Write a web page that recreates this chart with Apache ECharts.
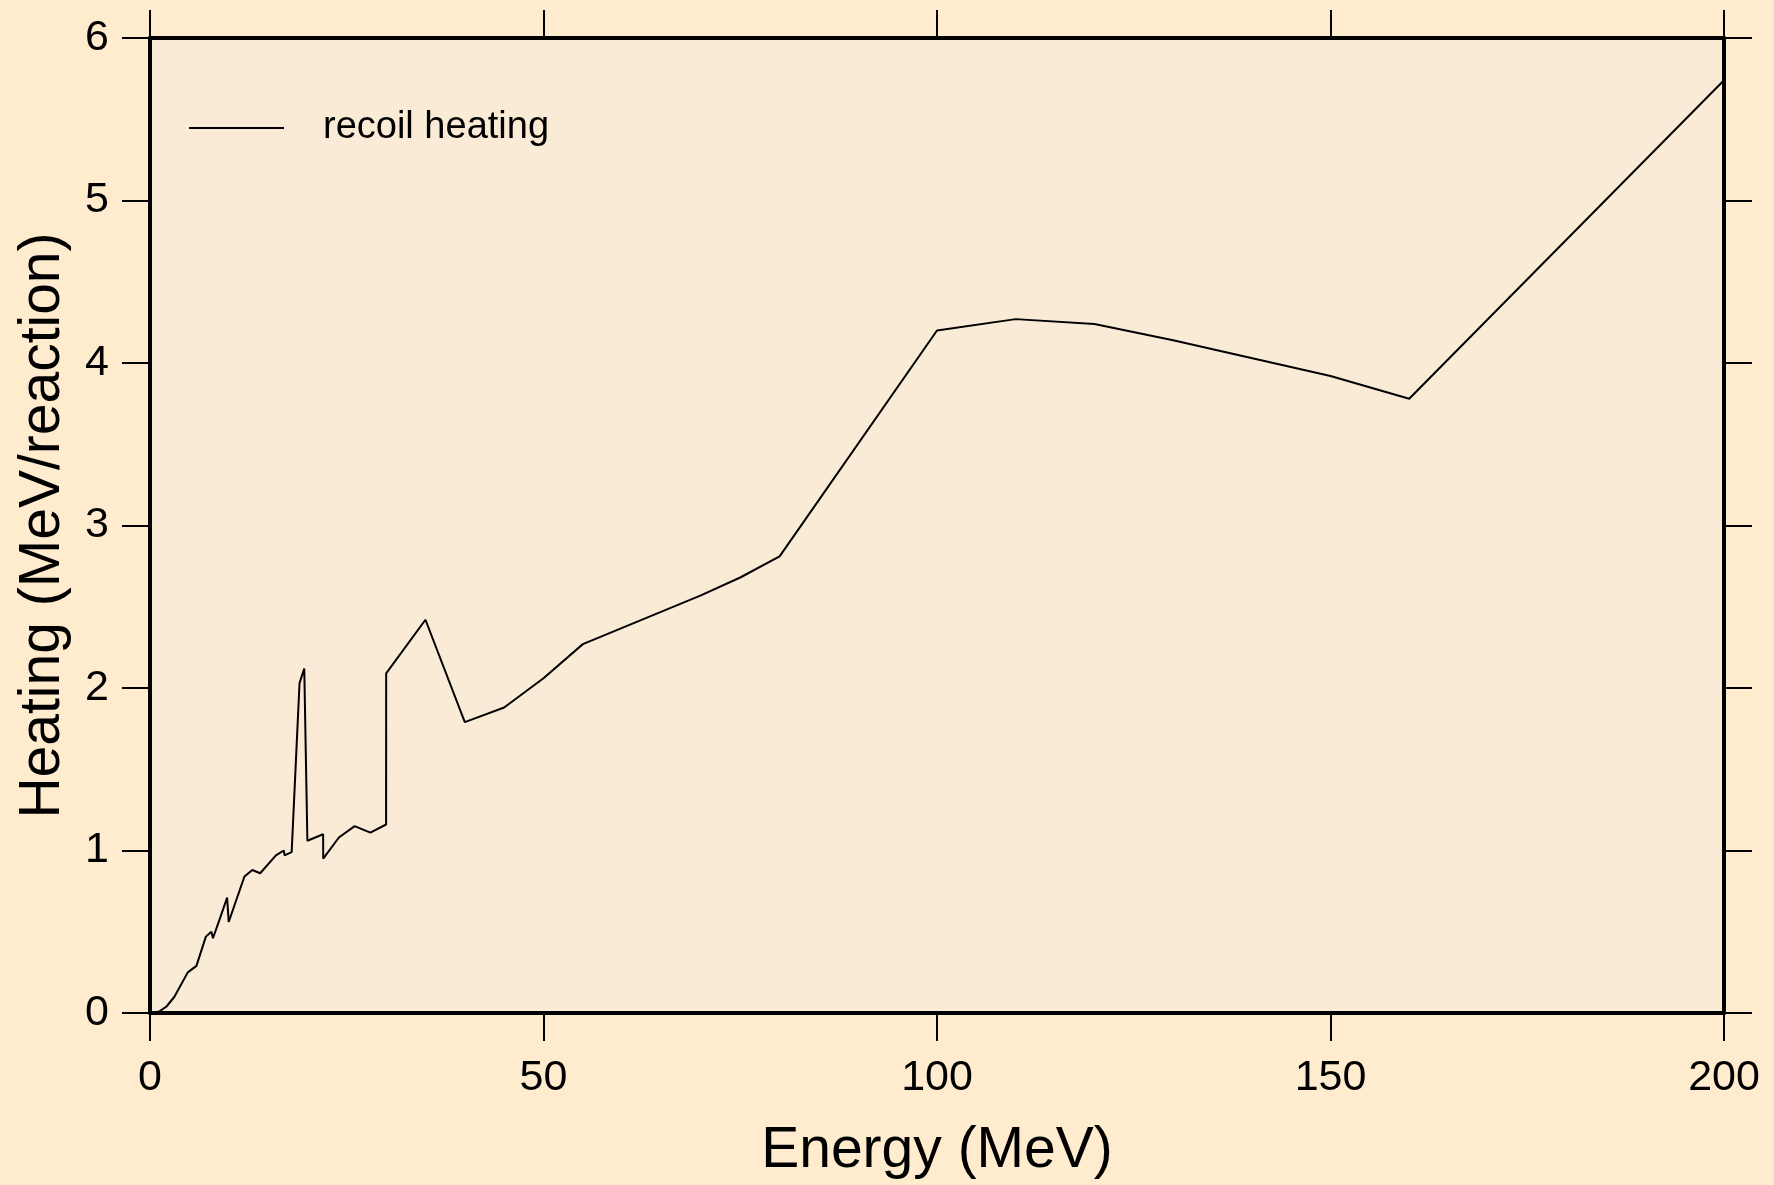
<!DOCTYPE html>
<html>
<head>
<meta charset="utf-8">
<script src="https://cdn.jsdelivr.net/npm/echarts@6/dist/echarts.min.js"></script>
<style>
html,body{margin:0;padding:0;background:#FFEBCD;}
#chart{width:1774px;height:1185px;}
</style>
</head>
<body>
<div id="chart"></div>
<script>
const energy = [0, 1.2, 2.1, 3.1, 4.8, 5.9, 7.1, 7.8, 8.0, 8.8, 9.8, 10.0, 12, 13, 14, 16, 17, 17.1, 18, 19, 19.6, 20, 22, 22.01, 24, 26, 28, 30, 30.01, 35, 40, 45, 50, 55, 60, 70, 75, 80, 100, 110, 120, 130, 150, 160, 200];
const heating = [0, 0.01, 0.04, 0.10, 0.25, 0.29, 0.47, 0.50, 0.46, 0.57, 0.71, 0.56, 0.84, 0.88, 0.86, 0.97, 1.00, 0.97, 0.99, 2.03, 2.12, 1.06, 1.10, 0.95, 1.08, 1.15, 1.11, 1.16, 2.09, 2.42, 1.79, 1.88, 2.06, 2.27, 2.37, 2.57, 2.68, 2.81, 4.20, 4.27, 4.24, 4.14, 3.92, 3.78, 5.74];
const seriesName = 'recoil heating';
const xTitle = 'Energy (MeV)';
const yTitle = 'Heating (MeV/reaction)';

const font = "'Liberation Sans', Arial, Helvetica, sans-serif";
const chart = echarts.init(document.getElementById('chart'), null, {renderer: 'canvas'});
const pts = energy.map((e, i) => [e, heating[i]]);
const tick = {show: true, inside: false, length: 28, lineStyle: {color: '#000', width: 2}};
const line = {show: true, onZero: false, lineStyle: {color: '#000', width: 4}};
chart.setOption({
  backgroundColor: '#FFEBCD',
  animation: false,
  grid: {left: 150, right: 50, top: 38, bottom: 168, show: true, backgroundColor: '#FAEBD7', borderWidth: 0},
  legend: {
    show: true, left: 184, top: 104, itemWidth: 95, itemHeight: 2, icon: 'rect',
    textStyle: {fontFamily: font, fontSize: 38, color: '#000', padding: [0, 0, 0, 34]},
    data: [{name: seriesName, itemStyle: {color: '#000'}}]
  },
  xAxis: [
    {type: 'value', min: 0, max: 200, interval: 50, position: 'bottom',
     name: xTitle, nameLocation: 'middle', nameGap: 110,
     nameTextStyle: {fontFamily: font, fontSize: 57, color: '#000'},
     axisLine: line, axisTick: tick, splitLine: {show: false},
     axisLabel: {fontFamily: font, fontSize: 43, color: '#000', margin: 44}},
    {type: 'value', min: 0, max: 200, interval: 50, position: 'top',
     axisLine: line, axisTick: tick, splitLine: {show: false}, axisLabel: {show: false}}
  ],
  yAxis: [
    {type: 'value', min: 0, max: 6, interval: 1, position: 'left',
     name: yTitle, nameLocation: 'middle', nameGap: 78, nameRotate: 90,
     nameTextStyle: {fontFamily: font, fontSize: 57, color: '#000'},
     axisLine: line, axisTick: tick, splitLine: {show: false},
     axisLabel: {fontFamily: font, fontSize: 43, color: '#000', margin: 41}},
    {type: 'value', min: 0, max: 6, interval: 1, position: 'right',
     axisLine: line, axisTick: tick, splitLine: {show: false}, axisLabel: {show: false}}
  ],
  series: [{
    name: seriesName, type: 'line', data: pts, xAxisIndex: 0, yAxisIndex: 0,
    showSymbol: false, symbol: 'none', lineStyle: {color: '#000', width: 2}, itemStyle: {color: '#000'}
  }]
});
</script>
</body>
</html>
